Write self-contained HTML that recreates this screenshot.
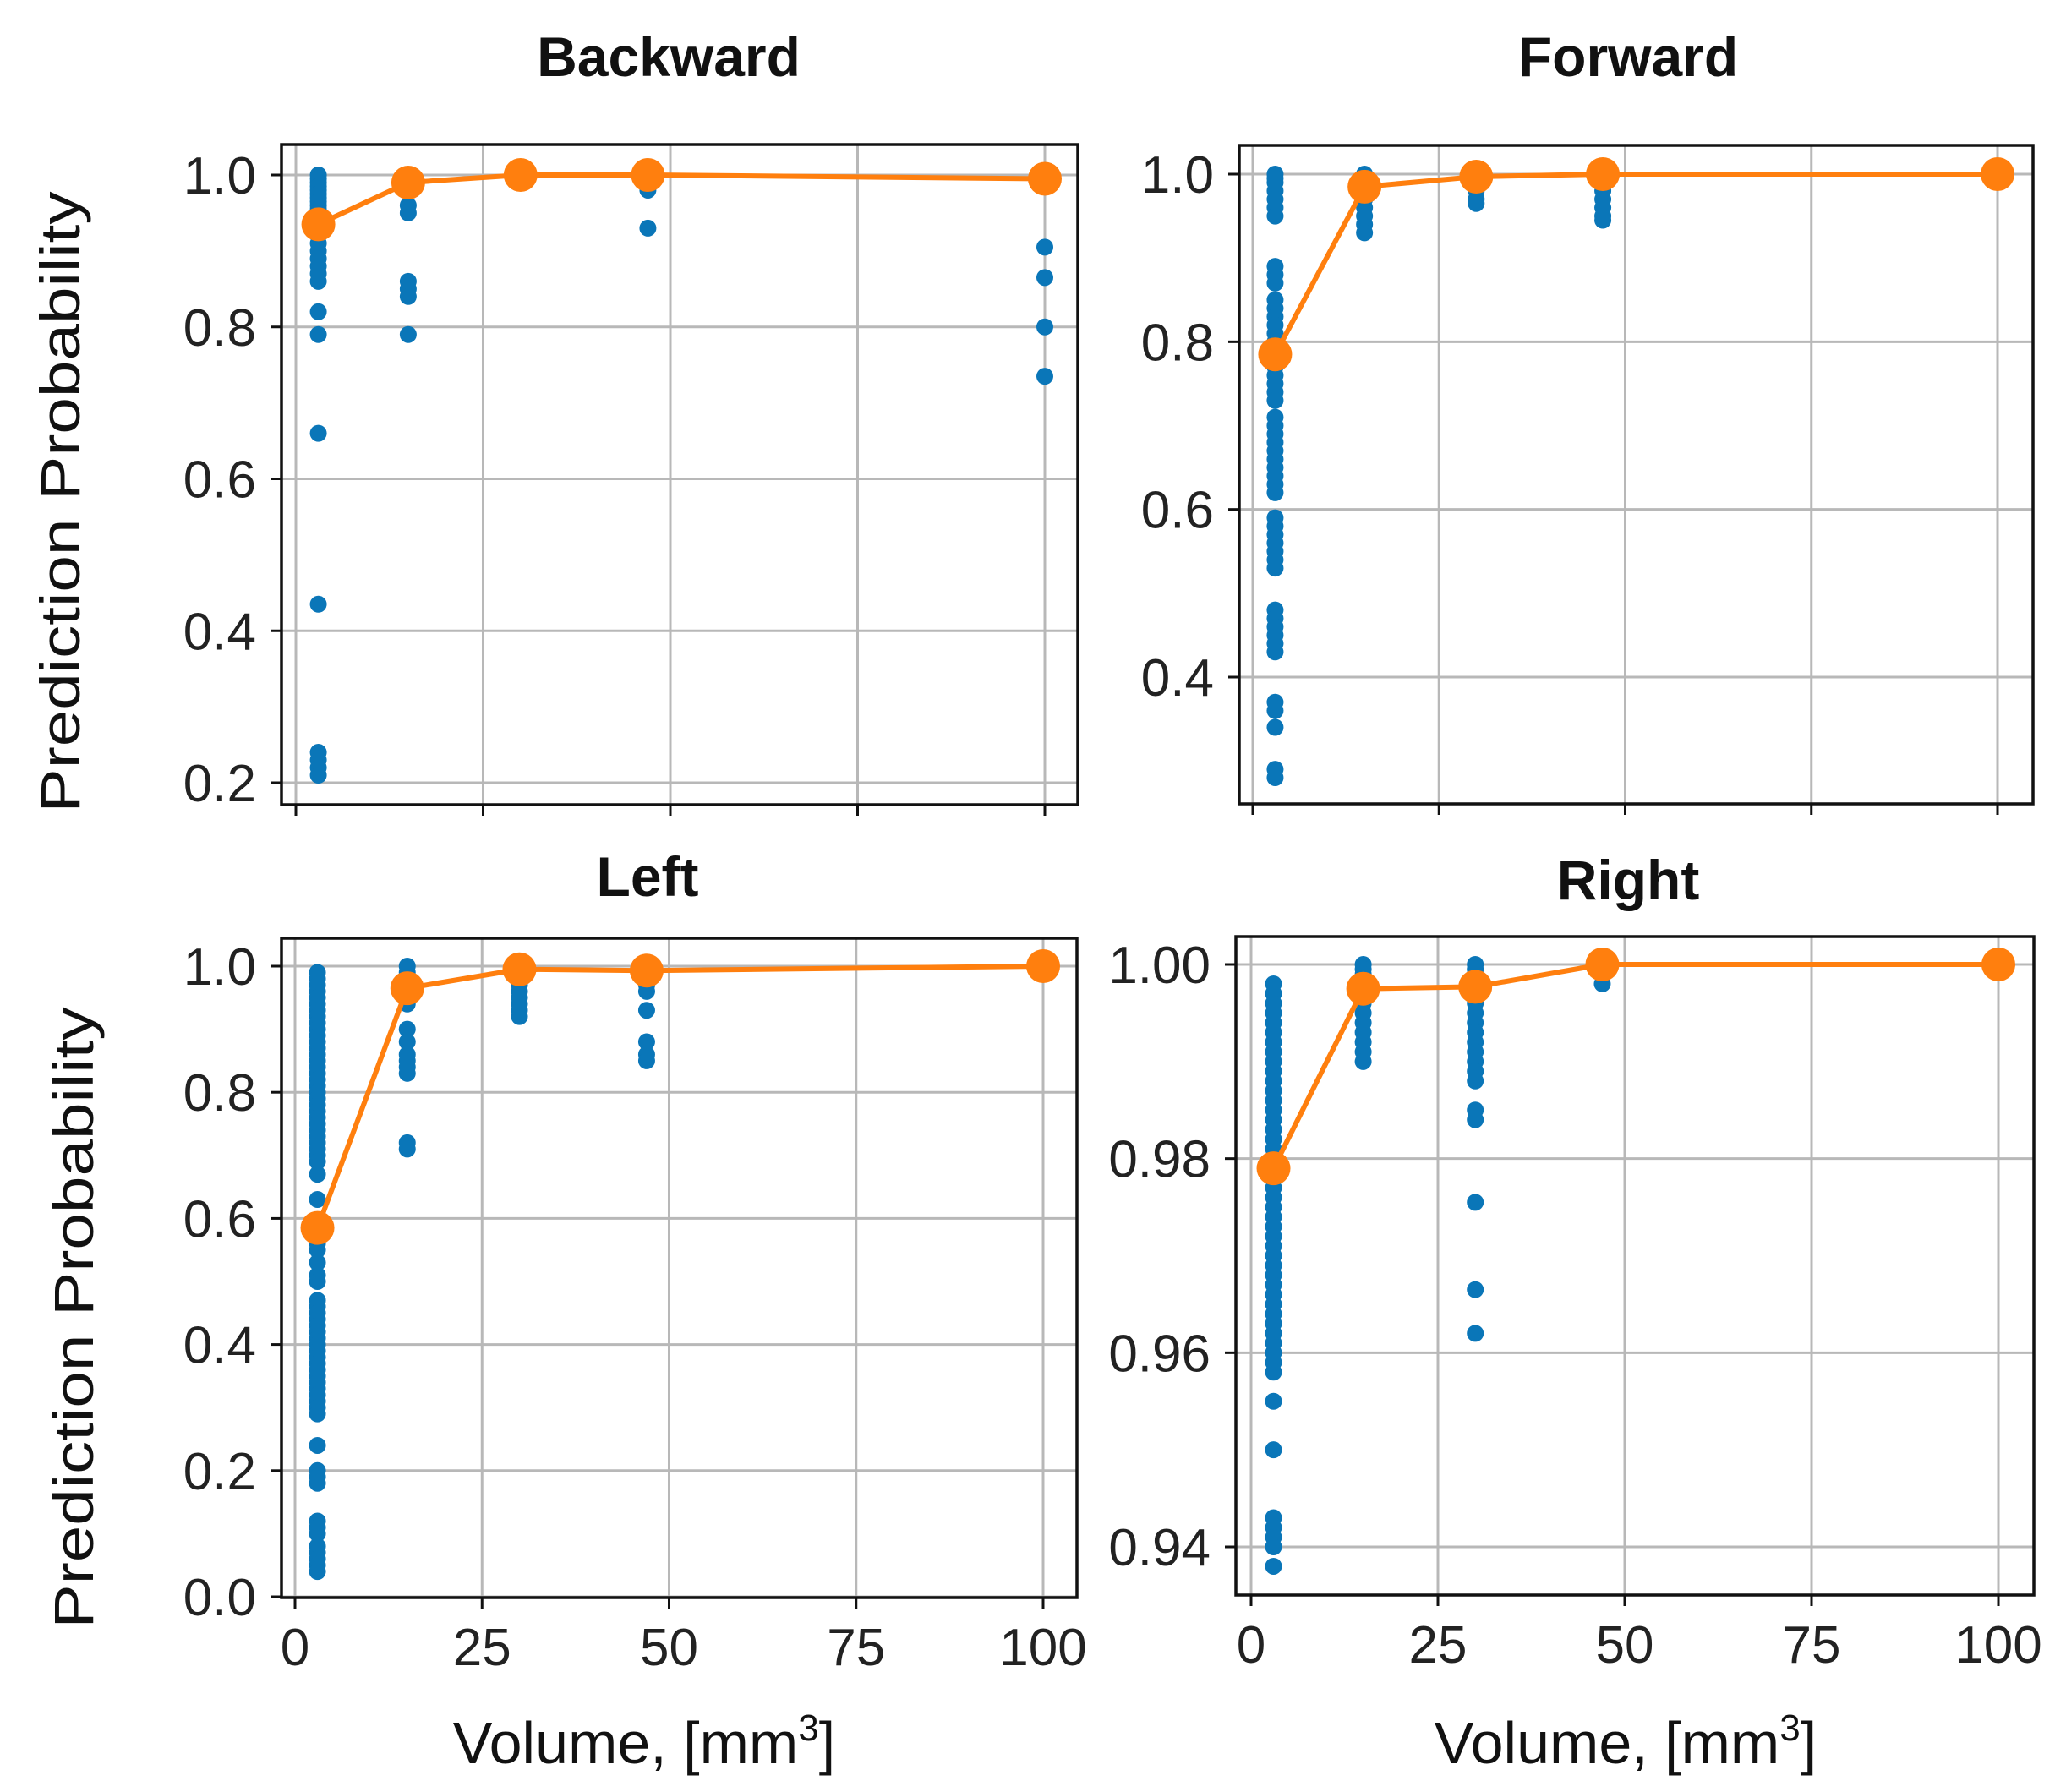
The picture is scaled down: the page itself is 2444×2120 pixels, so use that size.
<!DOCTYPE html>
<html><head><meta charset="utf-8"><style>html,body{margin:0;padding:0;background:#fff}svg{display:block}</style></head>
<body>
<svg id="fig" width="2444" height="2120" viewBox="0 0 2444 2120" xmlns="http://www.w3.org/2000/svg" font-family="'Liberation Sans', 'DejaVu Sans', sans-serif"></svg>
<script>
const volumes = [3, 15, 30, 47, 100];
const xTicks = [0, 25, 50, 75, 100];
// Backward
const backTicks = [0.2, 0.4, 0.6, 0.8, 1.0];
const backMeans = [0.935, 0.99, 1.0, 1.0, 0.995];
const backPts = [
 [1.0,0.995,0.99,0.985,0.98,0.975,0.97,0.965,0.96,0.955,0.95,0.94,0.93,0.92,0.91,0.90,0.89,0.88,0.87,0.86,0.82,0.79,0.66,0.435,0.24,0.23,0.22,0.21],
 [1.0,0.995,0.99,0.98,0.96,0.95,0.86,0.85,0.84,0.79],
 [1.0,0.998],
 [1.0,0.98,0.93],
 [1.0,0.905,0.865,0.80,0.735]
];
// Forward
const fwdTicks = [0.4, 0.6, 0.8, 1.0];
const fwdMeans = [0.785, 0.985, 0.997, 1.0, 1.0];
const fwdPts = [
 [1.0,0.995,0.99,0.98,0.97,0.96,0.95,0.89,0.88,0.87,0.85,0.84,0.83,0.82,0.81,0.80,0.79,0.78,0.77,0.76,0.75,0.74,0.73,0.71,0.70,0.69,0.68,0.67,0.66,0.65,0.64,0.63,0.62,0.59,0.58,0.57,0.56,0.55,0.54,0.53,0.48,0.47,0.46,0.45,0.44,0.43,0.37,0.36,0.34,0.29,0.28],
 [1.0,0.995,0.99,0.98,0.97,0.96,0.95,0.94,0.93],
 [1.0,0.995,0.99,0.98,0.97,0.965],
 [1.0,0.99,0.98,0.97,0.96,0.95,0.945],
 [1.0]
];
// Left
const leftTicks = [0.0, 0.2, 0.4, 0.6, 0.8, 1.0];
const leftMeans = [0.585, 0.965, 0.995, 0.993, 1.0];
const leftPts = [
 [0.99,0.98,0.97,0.96,0.95,0.94,0.93,0.92,0.91,0.90,0.89,0.88,0.87,0.86,0.85,0.84,0.83,0.82,0.81,0.80,0.79,0.78,0.77,0.76,0.75,0.74,0.73,0.72,0.71,0.70,0.69,0.67,0.63,0.56,0.55,0.53,0.51,0.50,0.47,0.46,0.45,0.44,0.43,0.42,0.41,0.40,0.39,0.38,0.37,0.36,0.35,0.34,0.33,0.32,0.31,0.30,0.29,0.24,0.20,0.19,0.18,0.12,0.11,0.10,0.08,0.07,0.06,0.05,0.04],
 [1.0,0.99,0.98,0.97,0.96,0.95,0.94,0.90,0.88,0.86,0.85,0.84,0.83,0.72,0.71],
 [1.0,0.99,0.98,0.97,0.96,0.95,0.94,0.93,0.92],
 [1.0,0.99,0.98,0.97,0.96,0.93,0.88,0.86,0.85],
 [1.0]
];
// Right
const rightTicks = [0.94, 0.96, 0.98, 1.00];
const rightMeans = [0.979, 0.9975, 0.9977, 1.0, 1.0];
const rightPts = [
 [0.998,0.997,0.996,0.995,0.994,0.993,0.992,0.991,0.990,0.989,0.988,0.987,0.986,0.985,0.984,0.983,0.982,0.981,0.980,0.979,0.978,0.977,0.976,0.975,0.974,0.973,0.972,0.971,0.970,0.969,0.968,0.967,0.966,0.965,0.964,0.963,0.962,0.961,0.960,0.959,0.958,0.955,0.950,0.943,0.942,0.941,0.940,0.938],
 [1.0,0.9995,0.999,0.998,0.997,0.996,0.995,0.994,0.993,0.992,0.991,0.990],
 [1.0,0.9995,0.999,0.998,0.997,0.996,0.995,0.994,0.993,0.992,0.991,0.990,0.989,0.988,0.985,0.984,0.9755,0.9665,0.962],
 [1.0,0.999,0.998],
 [1.0]
];

const NS = 'http://www.w3.org/2000/svg';
const svg = document.getElementById('fig');
function mk(tag, attrs, parent) {
  const e = document.createElementNS(NS, tag);
  for (const k in attrs) e.setAttribute(k, attrs[k]);
  (parent || svg).appendChild(e);
  return e;
}
function panel(cfg) {
  const g = mk('g', {});
  
  
  const xs = v => cfg.x0 + (v - 0) * (cfg.x100 - cfg.x0) / 100;
  const ys = v => cfg.yA + (v - cfg.vA) * (cfg.yB - cfg.yA) / (cfg.vB - cfg.vA);
  xTicks.forEach(t => {
    const l = mk('line', {x1: xs(t), x2: xs(t), y1: cfg.top, y2: cfg.bottom, stroke: '#b8b8b8', 'stroke-width': 3}, g);
    
    
    const tk = mk('line', {x1: xs(t), x2: xs(t), y1: cfg.bottom, y2: cfg.bottom + 13, stroke: '#111', 'stroke-width': 3}, g);
    
    
    if (cfg.xlabels) {
      const tx = mk('text', {x: xs(t), y: cfg.bottom + 80, 'font-size': 62, 'text-anchor': 'middle', fill: '#222'}, g);
      tx.textContent = String(t);
      
      
    }
  });
  cfg.ticks.forEach(t => {
    const y = ys(t);
    const l = mk('line', {x1: cfg.left, x2: cfg.right, y1: y, y2: y, stroke: '#b8b8b8', 'stroke-width': 3}, g);
    
    
    const tk = mk('line', {x1: cfg.left - 13, x2: cfg.left, y1: y, y2: y, stroke: '#111', 'stroke-width': 3}, g);
    
    
    const tx = mk('text', {x: cfg.left - 30, y: y + 22, 'font-size': 62, 'text-anchor': 'end', fill: '#222'}, g);
    tx.textContent = t.toFixed(cfg.dec);
    
    
  });
  cfg.pts.forEach((col, i) => {
    col.forEach(v => {
      const c = mk('circle', {cx: xs(volumes[i]), cy: ys(v), r: 10, fill: '#0a76b8'}, g);
      
      
    });
  });
  const pl = mk('polyline', {points: cfg.means.map((m, i) => xs(volumes[i]) + ',' + ys(m)).join(' '), fill: 'none', stroke: '#ff7f0e', 'stroke-width': 6}, g);
  
  
  cfg.means.forEach((m, i) => {
    const c = mk('circle', {cx: xs(volumes[i]), cy: ys(m), r: 20, fill: '#ff7f0e'}, g);
    
    
  });
  const fr = mk('rect', {x: cfg.left, y: cfg.top, width: cfg.right - cfg.left, height: cfg.bottom - cfg.top, fill: 'none', stroke: '#111', 'stroke-width': 3.5}, g);
  
  
  const ti = mk('text', {x: cfg.titleX, y: cfg.titleY, 'font-size': 66, 'font-weight': 'bold', 'text-anchor': 'middle', fill: '#111'}, g);
  ti.textContent = cfg.title;
  
  
}
panel({name: 'backward', title: 'Backward', titleX: 791, titleY: 90, left: 333, right: 1275, top: 171, bottom: 952,
  x0: 350, x100: 1236, vA: 1.0, yA: 207, vB: 0.2, yB: 926, ticks: backTicks, dec: 1, pts: backPts, means: backMeans, xlabels: false});
panel({name: 'forward', title: 'Forward', titleX: 1926, titleY: 90, left: 1466, right: 2405, top: 172, bottom: 951,
  x0: 1482, x100: 2363, vA: 1.0, yA: 206, vB: 0.4, yB: 801, ticks: fwdTicks, dec: 1, pts: fwdPts, means: fwdMeans, xlabels: false});
panel({name: 'left', title: 'Left', titleX: 766, titleY: 1060, left: 333, right: 1274, top: 1110, bottom: 1890,
  x0: 349, x100: 1234, vA: 1.0, yA: 1143, vB: 0.0, yB: 1889, ticks: leftTicks, dec: 1, pts: leftPts, means: leftMeans, xlabels: true});
panel({name: 'right', title: 'Right', titleX: 1926, titleY: 1064, left: 1462, right: 2406, top: 1108, bottom: 1887,
  x0: 1480, x100: 2364, vA: 1.0, yA: 1141, vB: 0.94, yB: 1830, ticks: rightTicks, dec: 2, pts: rightPts, means: rightMeans, xlabels: true});

function label(txt, x, y, name, len) {
  const t = mk('text', {x: x, y: y, 'font-size': 66, 'text-anchor': 'middle', fill: '#111', transform: 'rotate(-90 ' + x + ' ' + y + ')'});
  t.setAttribute('textLength', len);
  t.setAttribute('lengthAdjust', 'spacingAndGlyphs');
  t.textContent = txt;
  
  
  return t;
}
label('Prediction Probability', 94, 594, 'y-axis-title-top', 735);
label('Prediction Probability', 110, 1559, 'y-axis-title-bottom', 735);
[762, 1923].forEach(cx => {
  const t = mk('text', {x: cx, y: 2086, 'font-size': 70, 'text-anchor': 'middle', fill: '#111'});
  
  
  t.appendChild(document.createTextNode('Volume, [mm'));
  const s = document.createElementNS(NS, 'tspan');
  s.setAttribute('dy', '-27'); s.setAttribute('font-size', '44');
  s.textContent = '3';
  t.appendChild(s);
  const s2 = document.createElementNS(NS, 'tspan');
  s2.setAttribute('dy', '27');
  s2.textContent = ']';
  t.appendChild(s2);
});
</script>
</body></html>
